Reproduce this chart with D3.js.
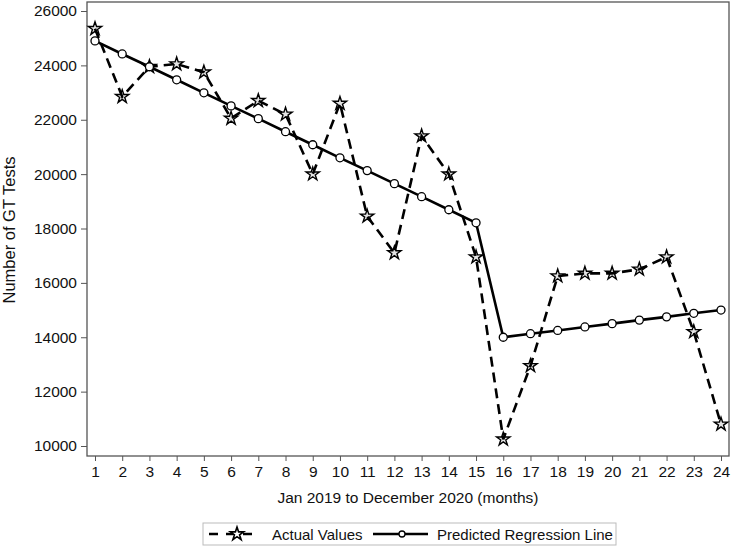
<!DOCTYPE html>
<html>
<head>
<meta charset="utf-8">
<script src="https://cdn.jsdelivr.net/npm/d3@7"></script>
<style>
  body { margin: 0; background: #fff; }
  text { font-family: "Liberation Sans", Arial, sans-serif; fill: #111; }
</style>
</head>
<body>
<svg id="chart"></svg>
<script>
const months = d3.range(1, 25);
const actual = [25350, 22850, 23950, 24050, 23750, 22050, 22700, 22200, 20000, 22600, 18450, 17100,
  21400, 20000, 16950, 10250, 12950, 16250, 16350, 16350, 16500, 16950, 14200, 10800];
const predicted = [24900, 24420, 23950, 23470, 22990, 22510, 22040, 21560, 21080, 20600, 20130, 19650,
  19170, 18690, 18210, 14000, 14130, 14250, 14380, 14500, 14630, 14750, 14880, 15000];
const yTicks = [10000, 12000, 14000, 16000, 18000, 20000, 22000, 24000, 26000];

const W = 734, H = 547;
const svg = d3.select("#chart").attr("width", W).attr("height", H);

const plotLeft = 87, plotRight = 729, plotTop = 2, plotBottom = 456;

const x = d3.scaleLinear().domain([1, 24]).range([95, 721]);
const y = d3.scaleLinear().domain([10000, 26000]).range([446, 11]);

// frame
svg.append("rect")
  .attr("x", plotLeft).attr("y", plotTop)
  .attr("width", plotRight - plotLeft).attr("height", plotBottom - plotTop)
  .attr("fill", "none").attr("stroke", "#555").attr("stroke-width", 1.3);

// y axis
const yAxis = svg.append("g")
  .attr("transform", `translate(${plotLeft},0)`)
  .call(d3.axisLeft(y).tickValues(yTicks).tickSize(6).tickPadding(4).tickFormat(d3.format("d")));
yAxis.select(".domain").remove();
yAxis.selectAll(".tick line").attr("stroke", "#555");
yAxis.selectAll(".tick text").style("font-size", "15.5px");

// x axis
const xAxis = svg.append("g")
  .attr("transform", `translate(0,${plotBottom})`)
  .call(d3.axisBottom(x).tickValues(months).tickSize(5).tickPadding(5));
xAxis.select(".domain").remove();
xAxis.selectAll(".tick line").attr("stroke", "#555");
xAxis.selectAll(".tick text").style("font-size", "15.5px");

// titles
svg.append("text")
  .attr("transform", `translate(15,230) rotate(-90)`)
  .attr("text-anchor", "middle")
  .style("font-size", "16.5px")
  .text("Number of GT Tests");

svg.append("text")
  .attr("x", 408).attr("y", 503)
  .attr("text-anchor", "middle")
  .style("font-size", "15.5px")
  .text("Jan 2019 to December 2020 (months)");

const line = d3.line().x((d, i) => x(months[i])).y(d => y(d));

const star = d3.symbol().type(d3.symbolStar).size(55);

svg.selectAll(".st").data(actual).join("path")
  .attr("transform", (d, i) => `translate(${x(months[i])},${y(d)})`)
  .attr("d", star).attr("fill", "#e4e4e4").attr("stroke", "#000").attr("stroke-width", 1.4);

// predicted line
svg.append("path").datum(predicted)
  .attr("d", line).attr("fill", "none")
  .attr("stroke", "#000").attr("stroke-width", 2.6);

// actual dashed line
svg.append("path").datum(actual)
  .attr("d", line).attr("fill", "none")
  .attr("stroke", "#000").attr("stroke-width", 2.6)
  .attr("stroke-dasharray", "10,6");

svg.selectAll(".pc").data(predicted).join("circle")
  .attr("cx", (d, i) => x(months[i])).attr("cy", d => y(d))
  .attr("r", 4).attr("fill", "#fff").attr("stroke", "#000").attr("stroke-width", 1.3);

// legend
const lg = svg.append("g");
lg.append("rect").attr("x", 203).attr("y", 523).attr("width", 413).attr("height", 22)
  .attr("fill", "#fff").attr("stroke", "#bbb");

lg.append("line").attr("x1", 209).attr("x2", 257).attr("y1", 534).attr("y2", 534)
  .attr("stroke", "#000").attr("stroke-width", 2.6).attr("stroke-dasharray", "9,8");
lg.append("path").attr("transform", "translate(237,534)").attr("d", star)
  .attr("fill", "#fff").attr("stroke", "#000").attr("stroke-width", 1.6);
lg.append("text").attr("x", 272).attr("y", 539.5).style("font-size", "15px").text("Actual Values");

lg.append("line").attr("x1", 373).attr("x2", 428).attr("y1", 534).attr("y2", 534)
  .attr("stroke", "#000").attr("stroke-width", 2.6);
lg.append("circle").attr("cx", 402).attr("cy", 534).attr("r", 3)
  .attr("fill", "#fff").attr("stroke", "#000").attr("stroke-width", 1.3);
lg.append("text").attr("x", 437).attr("y", 539.5).style("font-size", "15px").text("Predicted Regression Line");
</script>
</body>
</html>
